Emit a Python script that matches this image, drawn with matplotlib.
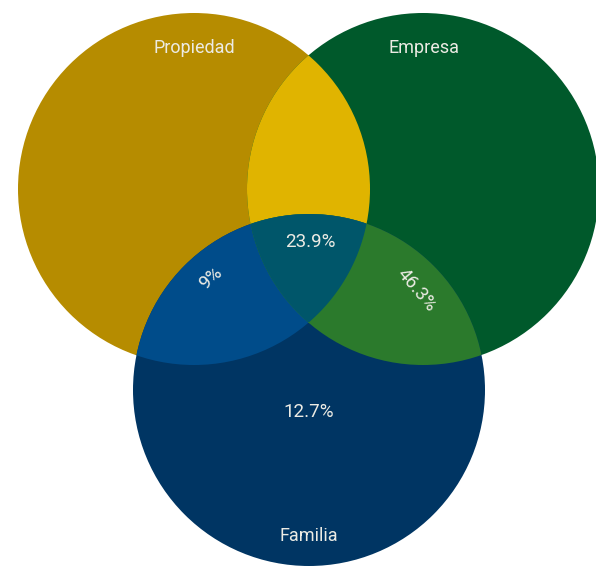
import numpy as np
import matplotlib
matplotlib.use("Agg")
import matplotlib.pyplot as plt
from matplotlib.patches import Circle, Polygon

# sets and the share shown in each region
set_names = ["Propiedad", "Empresa", "Familia"]
region_keys = ["P&E&F", "P&F", "E&F", "F"]
region_values = [23.9, 9, 46.3, 12.7]

# layout (pixel space of a 596x566 canvas)
R = 176
centers = {"Propiedad": (194, 189), "Empresa": (423, 189), "Familia": (309, 390)}
name_pos = {"Propiedad": (194, 48), "Empresa": (424, 48), "Familia": (309, 536)}
value_pos = {"P&E&F": (310, 242, 0), "P&F": (211, 278, 42),
             "E&F": (417, 290, -50), "F": (309, 412, 0)}

col = {"P": "#b68c00", "E": "#00592b", "F": "#003563",
       "P&E": "#e0b400", "P&F": "#004c8a", "E&F": "#2b7a2c", "P&E&F": "#00566a"}
txt_color = "#ecebe4"
plt.rcParams["font.family"] = ["Roboto", "DejaVu Sans"]


def circle(name, color):
    return Circle(centers[name], R, facecolor=color, edgecolor="none")


def lens(a, b, n=400):
    # points of circle a inside circle b, then points of b inside a
    ca, cb = np.array(centers[a]), np.array(centers[b])
    pts = []
    for c1, c2 in ((ca, cb), (cb, ca)):
        ang = np.arctan2(*(c2 - c1)[::-1])
        t = np.linspace(ang - np.pi, ang + np.pi, n)
        p = c1 + R * np.c_[np.cos(t), np.sin(t)]
        p = p[np.hypot(*(p - c2).T) <= R]
        pts.append(p)
    return np.vstack(pts)


fig = plt.figure(figsize=(5.96, 5.66), dpi=100)
ax = fig.add_axes([0, 0, 1, 1])
ax.set_xlim(0, 596)
ax.set_ylim(566, 0)
ax.set_aspect("equal")
ax.axis("off")

ax.add_patch(circle("Propiedad", col["P"]))
ax.add_patch(circle("Empresa", col["E"]))
ax.add_patch(circle("Familia", col["F"]))

# pairwise overlaps
clipP = circle("Propiedad", "none")
clipE = circle("Empresa", "none")
clipF = circle("Familia", "none")
for c in (clipP, clipE, clipF):
    ax.add_patch(c)
    c.set_visible(False)

p = ax.add_patch(circle("Empresa", col["P&E"]))
p.set_clip_path(clipP)
p = ax.add_patch(circle("Familia", col["P&F"]))
p.set_clip_path(clipP)
p = ax.add_patch(circle("Familia", col["E&F"]))
p.set_clip_path(clipE)

# triple overlap
tri = ax.add_patch(Polygon(lens("Propiedad", "Empresa"), closed=True,
                           facecolor=col["P&E&F"], edgecolor="none"))
tri.set_clip_path(clipF)

for name in set_names:
    x, y = name_pos[name]
    ax.text(x, y, name, ha="center", va="center", fontsize=13,
            color=txt_color)

for key, v in zip(region_keys, region_values):
    x, y, rot = value_pos[key]
    ax.text(x, y, f"{v:g}%", ha="center", va="center", fontsize=13.5,
            color=txt_color, rotation=rot, rotation_mode="anchor")

fig.savefig("out.png", dpi=100)
